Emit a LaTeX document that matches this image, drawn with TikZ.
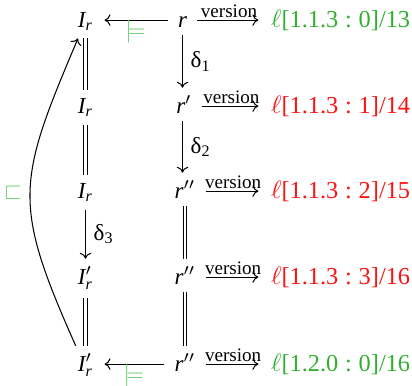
\documentclass[tikz,border=0pt]{standalone}
\usepackage{amssymb}
\usepackage{fontspec}
\setmainfont{Liberation Serif}
\usetikzlibrary{arrows.meta}
\definecolor{vgreen}{RGB}{50,175,50}
\definecolor{lgreen}{RGB}{105,205,105}
\definecolor{vred}{RGB}{250,20,20}
\newcommand{\lbl}[3]{$\ell$[#1\hspace{.278em}:\hspace{.278em}#2]/#3}
\begin{document}
\begin{tikzpicture}[x=0.435pt,y=-0.435pt,
  obj/.style={anchor=base,inner sep=3.3pt},
  lab/.style={anchor=base west,inner sep=3.3pt,font=\fontsize{10.6pt}{12pt}\selectfont},
  arr/.style={-{To[length=2.6pt,width=5pt]},line width=0.45pt},
  varr/.style={arr,shorten >=2pt,shorten <=1pt},
  harr/.style={arr,shorten >=1.5pt,shorten <=1pt},
  eq/.style={double,double distance=1.3pt,line width=0.4pt},
  ver/.style={above,font=\fontsize{8.3pt}{9pt}\selectfont,inner sep=1pt},
  sat/.style={below,text=lgreen,inner sep=1pt,yshift=1.2pt}]
\useasboundingbox (0,0) rectangle (412,385);
% row baselines
\node[obj] (I1) at (85.5,27) {$\mathit{I}_{\mathit{r}}$};
\node[obj] (I2) at (85.5,113) {$\mathit{I}_{\mathit{r}}$};
\node[obj] (I3) at (85.5,198) {$\mathit{I}_{\mathit{r}}$};
\node[obj] (I4) at (85.5,284) {$\mathit{I}'_{\mathit{r}}$};
\node[obj] (I5) at (85.5,371) {$\mathit{I}'_{\mathit{r}}$};
\node[obj] (r1) at (182.5,27) {$\mathit{r}$};
\node[obj] (r2) at (184,113) {$\mathit{r}'$};
\node[obj] (r3) at (185,198) {$\mathit{r}''$};
\node[obj] (r4) at (185,284) {$\mathit{r}''$};
\node[obj] (r5) at (185,371) {$\mathit{r}''$};
\node[lab,text=vgreen] (v1) at (263,27) {\lbl{1.1.3}{0}{13}};
\node[lab,text=vred] (v2) at (263,113) {\lbl{1.1.3}{1}{14}};
\node[lab,text=vred] (v3) at (263,198) {\lbl{1.1.3}{2}{15}};
\node[lab,text=vred] (v4) at (263,284) {\lbl{1.1.3}{3}{16}};
\node[lab,text=vgreen] (v5) at (263,371) {\lbl{1.2.0}{0}{16}};
% version arrows
\foreach \i in {1,...,5}{
  \draw[varr] ([yshift=3pt]r\i.base east) -- node[ver]{version} ([yshift=3pt]v\i.base west);
}
% satisfaction arrows
\draw[harr] ([yshift=3pt]r1.base west) -- node[sat]{$\models$} ([yshift=3pt]I1.base east);
\draw[harr] ([yshift=3pt]r5.base west) -- node[sat]{$\models$} ([yshift=3pt]I5.base east);
% deltas
\draw[arr] (r1.south) -- node[right]{δ$_{\mathrm{1}}$} (r1.south |- r2.north);
\draw[arr] (r2.south -| r1.south) -- node[right]{δ$_{\mathrm{2}}$} (r1.south |- r3.north);
\draw[arr] (I3) -- node[right]{δ$_{\mathrm{3}}$} (I4);
% equalities
\draw[eq] (I1) -- (I2);
\draw[eq] (I2) -- (I3);
\draw[eq] (I4) -- (I5);
\draw[eq] (r3) -- (r4);
\draw[eq] (r4) -- (r5);
% refinement curve
\draw[arr] ([xshift=2.5pt]I5.north west) to[out=114,in=-113,looseness=1.3]
  node[left,text=lgreen]{$\sqsubset$} ([xshift=3.5pt]I1.south west);
\end{tikzpicture}
\end{document}
